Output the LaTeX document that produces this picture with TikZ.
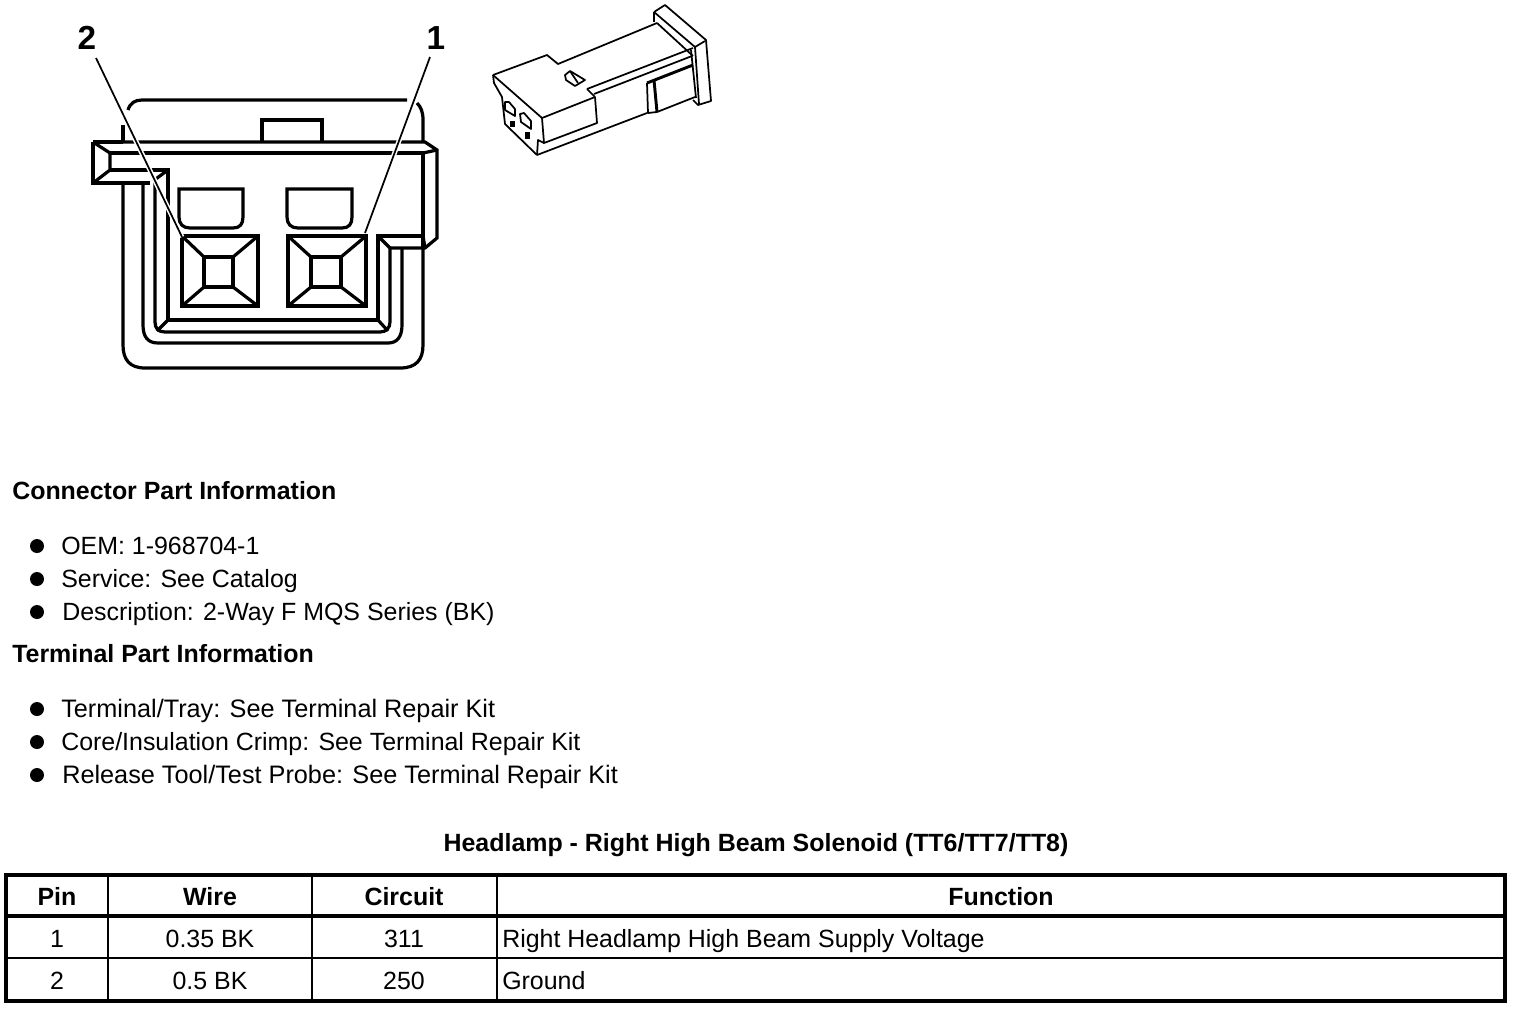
\documentclass[tikz,border=0pt]{standalone}
\usepackage{fontspec}
\setmainfont{Liberation Sans}
\tikzset{
  ln/.style={line width=2.4pt,line join=miter},
  iso/.style={line width=1.3pt,line join=round},
  txt/.style={anchor=base west,inner sep=0pt,font=\fontsize{18.7}{22}\selectfont},
  txtw/.style={anchor=base west,inner sep=0pt,font=\fontsize{18.95}{22}\selectfont},
  hd/.style={anchor=base west,inner sep=0pt,font=\fontsize{18.7}{22}\bfseries\selectfont},
  cell/.style={anchor=base,inner sep=0pt,font=\fontsize{18.7}{22}\selectfont},
  hcell/.style={anchor=base,inner sep=0pt,font=\fontsize{18.7}{22}\bfseries\selectfont},
  lab/.style={anchor=center,inner sep=0pt,font=\fontsize{25}{28}\bfseries\selectfont},
  dot/.style={circle,fill=black,inner sep=0pt,minimum size=10.5pt},
  halo/.style={white,line width=3.6pt},
  leader/.style={black,line width=1.3pt}
}
\begin{document}
\begin{tikzpicture}[x=0.75pt,y=-0.75pt]
\useasboundingbox (0,0) rectangle (1520,1008);
% connector front view
\begin{scope}[ln]
\draw (123,142) -- (123,125);
\draw (128,110) .. controls (130,103) and (135,100) .. (142,100) -- (407,100);
\draw (417,103) .. controls (421,107) and (423,112) .. (423,120) -- (423,142);
\draw (123,142) -- (425,142) -- (437,150) -- (437,238) -- (425,248) -- (390,248);
\draw (110,153) -- (423,153) -- (423,248);
\draw (423,236) -- (378,236) -- (378,320);
\draw (378,236) -- (390,248);
\draw (423,236) -- (425,248);
\draw (423,153) -- (437,150);
\draw (93,142) -- (123,142);
\draw (93,142) -- (93,183) -- (150,183);
\draw (93,142) -- (110,153) -- (110,170) -- (93,183);
\draw (110,170) -- (168,170) -- (168,320) -- (378,320);
\draw (153,181) -- (168,170);
\draw (123,183) -- (123,345) .. controls (123,360) and (130,368) .. (145,368) -- (400,368) .. controls (416,368) and (423,360) .. (423,345) -- (423,248);
\draw (143,183) -- (143,325) .. controls (143,337) and (148,343) .. (158,343) -- (388,343) .. controls (397,343) and (402,337) .. (402,325) -- (402,248);
\draw (155,183) -- (155,322) .. controls (155,328) and (158,332) .. (165,332) -- (380,332) .. controls (386,332) and (390,328) .. (390,322) -- (390,248);
\draw (168,320) -- (157,331);
\draw (378,320) -- (388,331);
\draw (262,142) -- (262,120) -- (322,120) -- (322,142);
\draw (179,189) -- (243,189) -- (243,217) .. controls (243,224) and (240,228) .. (233,228) -- (190,228) .. controls (183,228) and (179,224) .. (179,217) -- cycle;
\draw (287,189) -- (352,189) -- (352,217) .. controls (352,224) and (349,228) .. (342,228) -- (298,228) .. controls (291,228) and (287,224) .. (287,217) -- cycle;
\draw (182,236) rectangle (258,306);
\draw (204,257) rectangle (233,287);
\draw (182,236) -- (204,257) (258,236) -- (233,257) (182,306) -- (204,287) (258,306) -- (233,287);
\draw (288,236) rectangle (366,306);
\draw (311,257) rectangle (341,287);
\draw (288,236) -- (311,257) (366,236) -- (341,257) (288,306) -- (311,287) (366,306) -- (341,287);
\end{scope}
\node[lab] (n2) at (87,38) {2};
\node[lab] (n1) at (436,38) {1};
\coordinate (t2) at (182,237);
\coordinate (t1) at (365,233);
\coordinate (s2) at (96,58);
\coordinate (s1) at (430,57);
\draw[halo] (s2) -- (t2);
\draw[halo] (s1) -- (t1);
\draw[leader] (s2) -- (t2);
\draw[leader] (s1) -- (t1);
% isometric connector
\begin{scope}[iso]
\draw (493,75) -- (547,55) -- (558,64) -- (657,23);
\draw (654,12) -- (665,5) -- (706,40) -- (711,101) -- (698,105) -- (693,100);
\draw (654,12) -- (654,22);
\draw (654,12) -- (695,47) -- (705,41);
\draw (657,23) -- (693,56);
\draw (695,47) -- (699,104);
\draw (691,50) -- (696,98);
\draw (493,75) -- (494,83) -- (502,97) -- (505,124) -- (537,155);
\draw (493,75) -- (542,118) -- (595,97);
\draw (542,118) -- (544,143) -- (597,123) -- (595,97);
\draw (537,155) -- (538,140) -- (544,143);
\draw (537,155) -- (647,113);
\draw (587,89) -- (693,48);
\draw (587,89) -- (595,97);
\draw (594,94) -- (692,56);
\draw[line width=2.2pt] (647,83) -- (693,65);
\draw (647,83) -- (648,113) -- (657,112) -- (695,97);
\draw[line width=2.2pt] (654,80) -- (657,112);
\draw (565,75) -- (570,71) -- (585,80) -- (575,86) -- (566,80) -- cycle;
\draw (570,71) -- (578,83);
\draw (505,102) -- (505,110) -- (515,116) -- (515,109) -- (509,102) -- cycle;
\draw (520,114) -- (521,122) -- (531,129) -- (531,121) -- (524,113) -- cycle;
\fill (510,121) rectangle (515,127);
\fill (525,132) rectangle (530,139);
\end{scope}
% text
\node[hd] (h1) at (12,499) {Connector Part Information};
\node[dot] (b1) at (37,546) {};
\node[dot] (b2) at (37,579) {};
\node[dot] (b3) at (37,612) {};
\node[txt] (t11) at (61,554) {OEM: 1-968704-1};
\node[txt] (t12) at (61,587) {Service: See Catalog};
\node[txt] (t13) at (62,620) {Description: 2-Way F MQS Series (BK)};
\node[hd] (h2) at (12,662) {Terminal Part Information};
\node[dot] (b4) at (37,709) {};
\node[dot] (b5) at (37,742) {};
\node[dot] (b6) at (37,775) {};
\node[txtw] (t21) at (61,717) {Terminal/Tray: See Terminal Repair Kit};
\node[txt] (t22) at (61,750) {Core/Insulation Crimp: See Terminal Repair Kit};
\node[txtw] (t23) at (62,783) {Release Tool/Test Probe: See Terminal Repair Kit};
\node[hcell] (title) at (756,851) {Headlamp - Right High Beam Solenoid (TT6/TT7/TT8)};
% table
\draw[line width=3pt] (6,875) rectangle (1505,1001);
\draw[line width=2.4pt] (6,916) -- (1505,916);
\draw[line width=1.6pt] (6,958) -- (1505,958);
\draw[line width=1.6pt] (108,875) -- (108,1001);
\draw[line width=.8pt] (312,875) -- (312,1001);
\draw[line width=.8pt] (497,875) -- (497,1001);
\node[hcell] (c1) at (57,905) {Pin};
\node[hcell] (c2) at (210,905) {Wire};
\node[hcell] (c3) at (404,905) {Circuit};
\node[hcell] (c4) at (1001,905) {Function};
\node[cell] (d1) at (57,947) {1};
\node[cell] (d2) at (210,947) {0.35 BK};
\node[cell] (d3) at (404,947) {311};
\node[txt] (d4) at (502,947) {Right Headlamp High Beam Supply Voltage};
\node[cell] (e1) at (57,989) {2};
\node[cell] (e2) at (210,989) {0.5 BK};
\node[cell] (e3) at (404,989) {250};
\node[txt] (e4) at (502,989) {Ground};
\end{tikzpicture}
\end{document}
